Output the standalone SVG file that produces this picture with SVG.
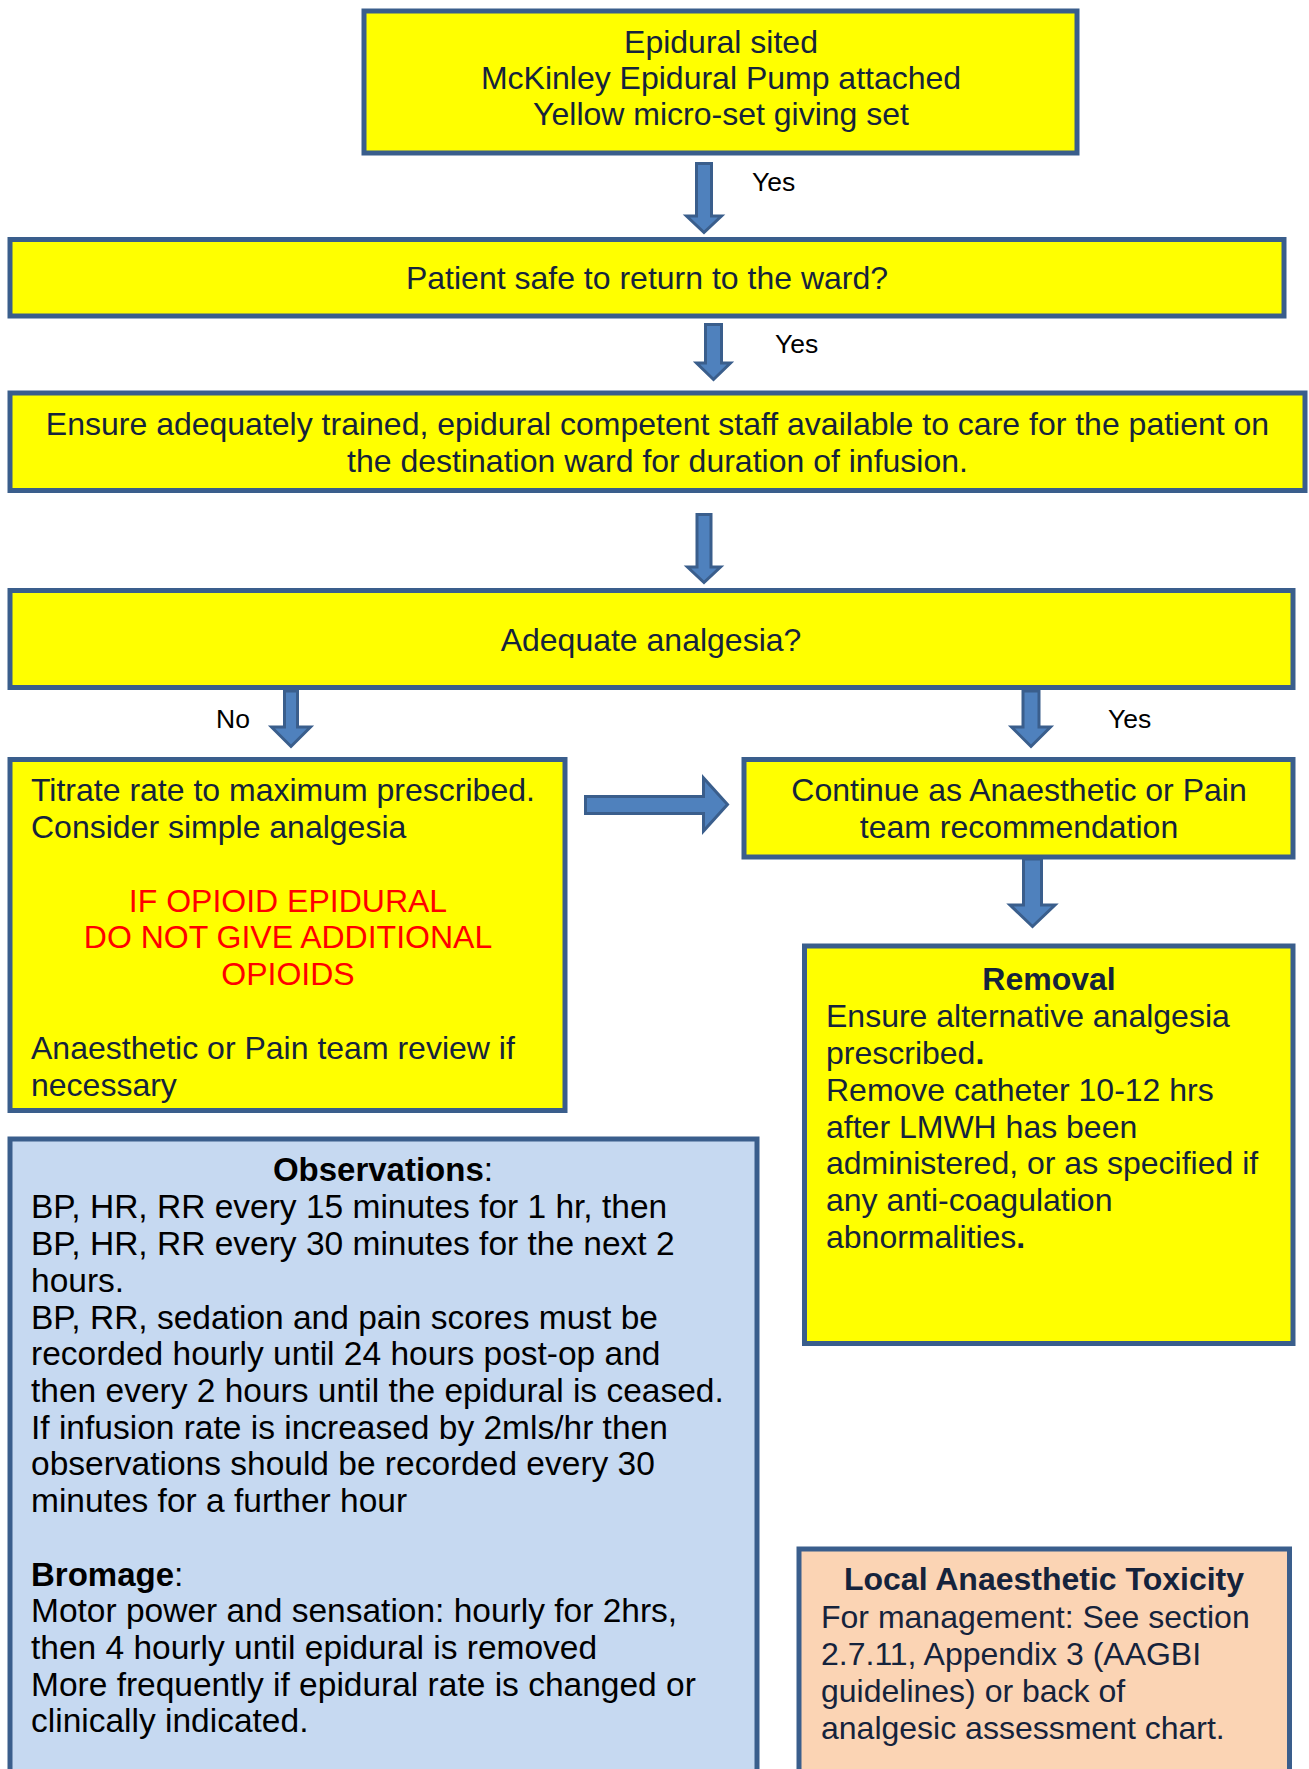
<svg xmlns="http://www.w3.org/2000/svg" width="1309" height="1769" viewBox="0 0 1309 1769">
<style>
.box{stroke:#3A5E8C;stroke-width:5;}
.yel{fill:#FFFF00;}
.blue{fill:#C6D9F1;}
.peach{fill:#FBD4B4;}
.arr{fill:#4F81BD;stroke:#3A5E8C;stroke-width:3;stroke-linejoin:miter;}
text{font-family:"Liberation Sans",Arial,sans-serif;}
.t{font-size:32px;fill:#15233C;}
.o{font-size:33.5px;fill:#000000;}
.lab{font-size:26.5px;fill:#000000;}
.red{font-size:32px;fill:#FF0000;}
.b{font-weight:bold;}
.c{text-anchor:middle;}
</style>
<rect width="1309" height="1769" fill="#FFFFFF"/>
<g id="connectors">
<polygon class="arr" points="696.5,163.5 711.5,163.5 711.5,216 721.5,216 704,232.5 686.5,216 696.5,216"/>
<polygon class="arr" points="705.5,324.5 721.5,324.5 721.5,363 730.5,363 713.5,379.5 696.5,363 705.5,363"/>
<polygon class="arr" points="697,514.5 711,514.5 711,567 720.5,567 704,582.5 687.5,567 697,567"/>
<polygon class="arr" points="284.5,691 297.5,691 297.5,727 310.5,727 291,746.5 271.5,727 284.5,727"/>
<polygon class="arr" points="1023,691 1039,691 1039,727 1050.5,727 1031,746.5 1011.5,727 1023,727"/>
<polygon class="arr" points="585.5,796.5 703.5,796.5 703.5,778 727.5,804.5 703.5,831 703.5,813.5 585.5,813.5"/>
<polygon class="arr" points="1023.5,859 1041.5,859 1041.5,905 1055,905 1032.5,926.5 1010,905 1023.5,905"/>
<text class="lab" x="752" y="191">Yes</text>
<text class="lab" x="775" y="353">Yes</text>
<text class="lab" x="216" y="728">No</text>
<text class="lab" x="1108" y="728">Yes</text>
</g>
<g id="node-epidural-sited">
<rect class="box yel" x="364" y="11" width="713" height="142"/>
<text class="t c" x="721" y="53">Epidural sited</text>
<text class="t c" x="721" y="89">McKinley Epidural Pump attached</text>
<text class="t c" x="721" y="125">Yellow micro-set giving set</text>
</g>
<g id="node-safe-return">
<rect class="box yel" x="10" y="239.5" width="1274" height="76.5"/>
<text class="t c" x="647" y="289">Patient safe to return to the ward?</text>
</g>
<g id="node-staff">
<rect class="box yel" x="10" y="393" width="1295" height="97.5"/>
<text class="t c" x="657.5" y="435">Ensure adequately trained, epidural competent staff available to care for the patient on</text>
<text class="t c" x="657.5" y="472">the destination ward for duration of infusion.</text>
</g>
<g id="node-adequate">
<rect class="box yel" x="10" y="590.5" width="1283" height="97"/>
<text class="t c" x="651" y="651">Adequate analgesia?</text>
</g>
<g id="node-titrate">
<rect class="box yel" x="10" y="759.5" width="555" height="351"/>
<text class="t" x="31" y="801">Titrate rate to maximum prescribed.</text>
<text class="t" x="31" y="838">Consider simple analgesia</text>
<text class="red c" x="288" y="912">IF OPIOID EPIDURAL</text>
<text class="red c" x="288" y="948">DO NOT GIVE ADDITIONAL</text>
<text class="red c" x="288" y="985">OPIOIDS</text>
<text class="t" x="31" y="1059">Anaesthetic or Pain team review if</text>
<text class="t" x="31" y="1096">necessary</text>
</g>
<g id="node-continue">
<rect class="box yel" x="744" y="759.5" width="549" height="97.5"/>
<text class="t c" x="1019" y="801">Continue as Anaesthetic or Pain</text>
<text class="t c" x="1019" y="838">team recommendation</text>
</g>
<g id="node-removal">
<rect class="box yel" x="804.5" y="946" width="488.5" height="397.5"/>
<text class="t b c" x="1049" y="990">Removal</text>
<text class="t" x="826" y="1027">Ensure alternative analgesia</text>
<text class="t" x="826" y="1064">prescribed<tspan class="b">.</tspan></text>
<text class="t" x="826" y="1101">Remove catheter 10-12 hrs</text>
<text class="t" x="826" y="1138">after LMWH has been</text>
<text class="t" x="826" y="1174">administered, or as specified if</text>
<text class="t" x="826" y="1211">any anti-coagulation</text>
<text class="t" x="826" y="1248">abnormalities<tspan class="b">.</tspan></text>
</g>
<g id="node-observations">
<rect class="box blue" x="10" y="1139" width="747" height="680"/>
<text class="o c" x="383" y="1181"><tspan class="b" font-size="33px">Observations</tspan>:</text>
<text class="o" x="31" y="1218">BP, HR, RR every 15 minutes for 1 hr, then</text>
<text class="o" x="31" y="1255">BP, HR, RR every 30 minutes for the next 2</text>
<text class="o" x="31" y="1291.5">hours.</text>
<text class="o" x="31" y="1328.5">BP, RR, sedation and pain scores must be</text>
<text class="o" x="31" y="1365">recorded hourly until 24 hours post-op and</text>
<text class="o" x="31" y="1401.5">then every 2 hours until the epidural is ceased.</text>
<text class="o" x="31" y="1438.5">If infusion rate is increased by 2mls/hr then</text>
<text class="o" x="31" y="1475">observations should be recorded every 30</text>
<text class="o" x="31" y="1512">minutes for a further hour</text>
<text class="o" x="31" y="1585.5"><tspan class="b" font-size="33px">Bromage</tspan>:</text>
<text class="o" x="31" y="1622">Motor power and sensation: hourly for 2hrs,</text>
<text class="o" x="31" y="1658.5">then 4 hourly until epidural is removed</text>
<text class="o" x="31" y="1695.5">More frequently if epidural rate is changed or</text>
<text class="o" x="31" y="1732">clinically indicated.</text>
</g>
<g id="node-toxicity">
<rect class="box peach" x="799" y="1549" width="490.5" height="270"/>
<text class="t b c" x="1044" y="1590">Local Anaesthetic Toxicity</text>
<text class="t" x="821" y="1628">For management: See section</text>
<text class="t" x="821" y="1665">2.7.11, Appendix 3 (AAGBI</text>
<text class="t" x="821" y="1702">guidelines) or back of</text>
<text class="t" x="821" y="1739">analgesic assessment chart.</text>
</g>
</svg>
